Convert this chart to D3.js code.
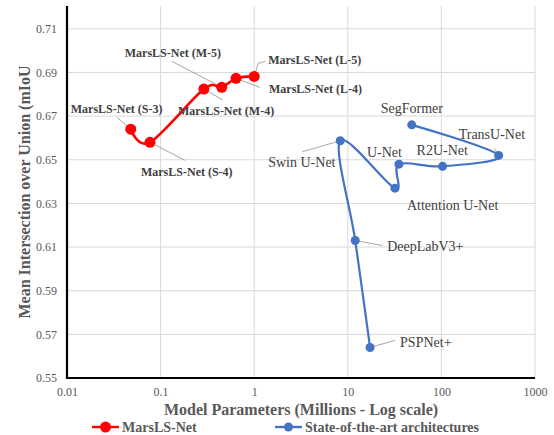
<!DOCTYPE html>
<html>
<head>
<meta charset="utf-8">
<script src="https://cdn.jsdelivr.net/npm/d3@7"></script>
<style>
  html, body { margin: 0; padding: 0; background: #fff; }
  svg { display: block; }
  text { font-family: "Liberation Serif", "Times New Roman", serif; }
</style>
</head>
<body>
<svg id="chart" width="554" height="435"></svg>
<script>
// MarsLS-Net variants: parameters (millions) and mIoU
const marsNames  = ["MarsLS-Net (S-3)", "MarsLS-Net (S-4)", "MarsLS-Net (M-4)", "MarsLS-Net (M-5)", "MarsLS-Net (L-4)", "MarsLS-Net (L-5)"];
const marsParams = [0.048, 0.077, 0.29, 0.45, 0.64, 1.0];
const marsMiou   = [0.664, 0.658, 0.6824, 0.6832, 0.6873, 0.6882];

// State-of-the-art segmentation architectures
const sotaNames  = ["PSPNet+", "DeepLabV3+", "Swin U-Net", "Attention U-Net", "U-Net", "R2U-Net", "TransU-Net", "SegFormer"];
const sotaParams = [17.3, 12.0, 8.3, 31.9, 35.2, 103, 409, 48.2];
const sotaMiou   = [0.564, 0.613, 0.6587, 0.637, 0.648, 0.647, 0.652, 0.666];

// Axis ticks
const xTicks = [0.01, 0.1, 1, 10, 100, 1000];
const yTicks = [0.55, 0.57, 0.59, 0.61, 0.63, 0.65, 0.67, 0.69, 0.71];

// Label placement relative to each point: text offset and optional leader path
const marsLabelLayout = [
  { dx: -60, dy: -20, leader: [[-14, -12]] },
  { dx: -9,  dy: 30,  leader: [[35, 18]] },
  { dx: -26, dy: 22,  leader: [[19, 11]] },
  { dx: -97, dy: -34, leader: [[-50, -26]] },
  { dx: 33,  dy: 11,  leader: [[24, 9]] },
  { dx: 14,  dy: -16, leader: [[4, -13], [11, -15]] }
];
const sotaLabelLayout = [
  { dx: 30,  dy: -5,  leader: [[25, -7]] },
  { dx: 32,  dy: 6,   leader: [[27, 5]] },
  { dx: -72, dy: 22,  leader: [[-38, 11]] },
  { dx: 12,  dy: 17,  leader: null },
  { dx: -32, dy: -12, leader: null },
  { dx: -26, dy: -16, leader: null },
  { dx: -40, dy: -21, leader: [[-4, -7]] },
  { dx: -31, dy: -16, leader: null }
];

const RED = "#FF0000", BLUE = "#4472C4";
const GRID = "#D9D9D9", TICK_TEXT = "#595959", LABEL_TEXT = "#404040";

const svg = d3.select("#chart");
const plot = { left: 67, right: 535, top: 7, bottom: 378 };

const x = d3.scaleLog().domain([0.01, 1000]).range([plot.left, plot.right]);
const y = d3.scaleLinear().domain([0.55, 0.72]).range([plot.bottom, plot.top]);

// Gridlines
svg.append("g").selectAll("line").data(yTicks.slice(1)).join("line")
  .attr("x1", plot.left).attr("x2", plot.right)
  .attr("y1", d => y(d)).attr("y2", d => y(d))
  .attr("stroke", GRID).attr("stroke-width", 1);
svg.append("g").selectAll("line").data(xTicks.slice(1)).join("line")
  .attr("x1", d => x(d)).attr("x2", d => x(d))
  .attr("y1", plot.top - 1).attr("y2", plot.bottom)
  .attr("stroke", GRID).attr("stroke-width", 1);

// Axes
const xAxis = d3.axisBottom(x).tickValues(xTicks).tickSize(0).tickPadding(9)
  .tickFormat(d => String(d));
const gx = svg.append("g").attr("transform", `translate(0,${plot.bottom})`).call(xAxis);
gx.select(".domain").remove();
gx.selectAll("text").attr("font-size", 12).attr("fill", TICK_TEXT)
  .attr("font-family", "Liberation Serif, serif");

const yAxis = d3.axisLeft(y).tickValues(yTicks).tickSize(0).tickPadding(10)
  .tickFormat(d3.format(".2f"));
const gy = svg.append("g").attr("transform", `translate(${plot.left},0)`).call(yAxis);
gy.select(".domain").remove();
gy.selectAll("text").attr("font-size", 12).attr("fill", TICK_TEXT)
  .attr("font-family", "Liberation Serif, serif");

// Axis lines (left and bottom)
svg.append("line").attr("x1", plot.left).attr("x2", plot.left)
  .attr("y1", plot.top - 1).attr("y2", plot.bottom + 1)
  .attr("stroke", "#000").attr("stroke-width", 2.2);
svg.append("line").attr("x1", plot.left - 1).attr("x2", plot.right)
  .attr("y1", plot.bottom).attr("y2", plot.bottom)
  .attr("stroke", "#000").attr("stroke-width", 2.2);

// Axis titles
svg.append("text")
  .attr("x", (plot.left + plot.right) / 2).attr("y", 409.5)
  .attr("text-anchor", "middle").attr("dominant-baseline", "central")
  .attr("font-size", 16).attr("font-weight", "bold").attr("fill", TICK_TEXT)
  .text("Model Parameters (Millions - Log scale)");
svg.append("text")
  .attr("transform", "translate(24,192) rotate(-90)")
  .attr("text-anchor", "middle").attr("dominant-baseline", "central")
  .attr("font-size", 16).attr("font-weight", "bold").attr("fill", TICK_TEXT)
  .text("Mean Intersection over Union (mIoU");

function drawSeries(names, params, miou, layout, color, lineW, r, bold) {
  const pts = params.map((p, i) => ({ name: names[i], px: x(p), py: y(miou[i]), lay: layout[i] }));
  const g = svg.append("g");

  // leader lines
  g.selectAll("path.leader").data(pts.filter(d => d.lay.leader)).join("path")
    .attr("class", "leader")
    .attr("d", d => "M" + [[d.px, d.py]].concat(d.lay.leader.map(o => [d.px + o[0], d.py + o[1]])).map(p => p.join(",")).join("L"))
    .attr("fill", "none").attr("stroke", "#A6A6A6").attr("stroke-width", 1);

  const line = d3.line().x(d => d.px).y(d => d.py).curve(d3.curveCatmullRom.alpha(0));
  g.append("path").datum(pts).attr("d", line)
    .attr("fill", "none").attr("stroke", color).attr("stroke-width", lineW)
    .attr("stroke-linejoin", "round");

  g.selectAll("circle").data(pts).join("circle")
    .attr("cx", d => d.px).attr("cy", d => d.py).attr("r", r).attr("fill", color);

  g.selectAll("text").data(pts).join("text")
    .attr("x", d => d.px + d.lay.dx).attr("y", d => d.py + d.lay.dy)
    .attr("dominant-baseline", "central")
    .attr("font-size", bold ? 12 : 14)
    .attr("font-weight", bold ? "bold" : "normal")
    .attr("fill", LABEL_TEXT)
    .text(d => d.name);
}

drawSeries(sotaNames, sotaParams, sotaMiou, sotaLabelLayout, BLUE, 2.2, 4.5, false);
drawSeries(marsNames, marsParams, marsMiou, marsLabelLayout, RED, 2.6, 5.5, true);

// Legend
const legendY = 427;
const legend = [
  { label: "MarsLS-Net", color: RED, x0: 92, r: 5.5 },
  { label: "State-of-the-art architectures", color: BLUE, x0: 275, r: 4.5 }
];
const lg = svg.append("g");
legend.forEach(item => {
  lg.append("line").attr("x1", item.x0).attr("x2", item.x0 + 27)
    .attr("y1", legendY).attr("y2", legendY).attr("stroke", item.color).attr("stroke-width", 2.4);
  lg.append("circle").attr("cx", item.x0 + 13.5).attr("cy", legendY).attr("r", item.r).attr("fill", item.color);
  lg.append("text").attr("x", item.x0 + 30).attr("y", legendY)
    .attr("dominant-baseline", "central")
    .attr("font-size", 14).attr("font-weight", "bold").attr("fill", TICK_TEXT)
    .text(item.label);
});
</script>
</body>
</html>
